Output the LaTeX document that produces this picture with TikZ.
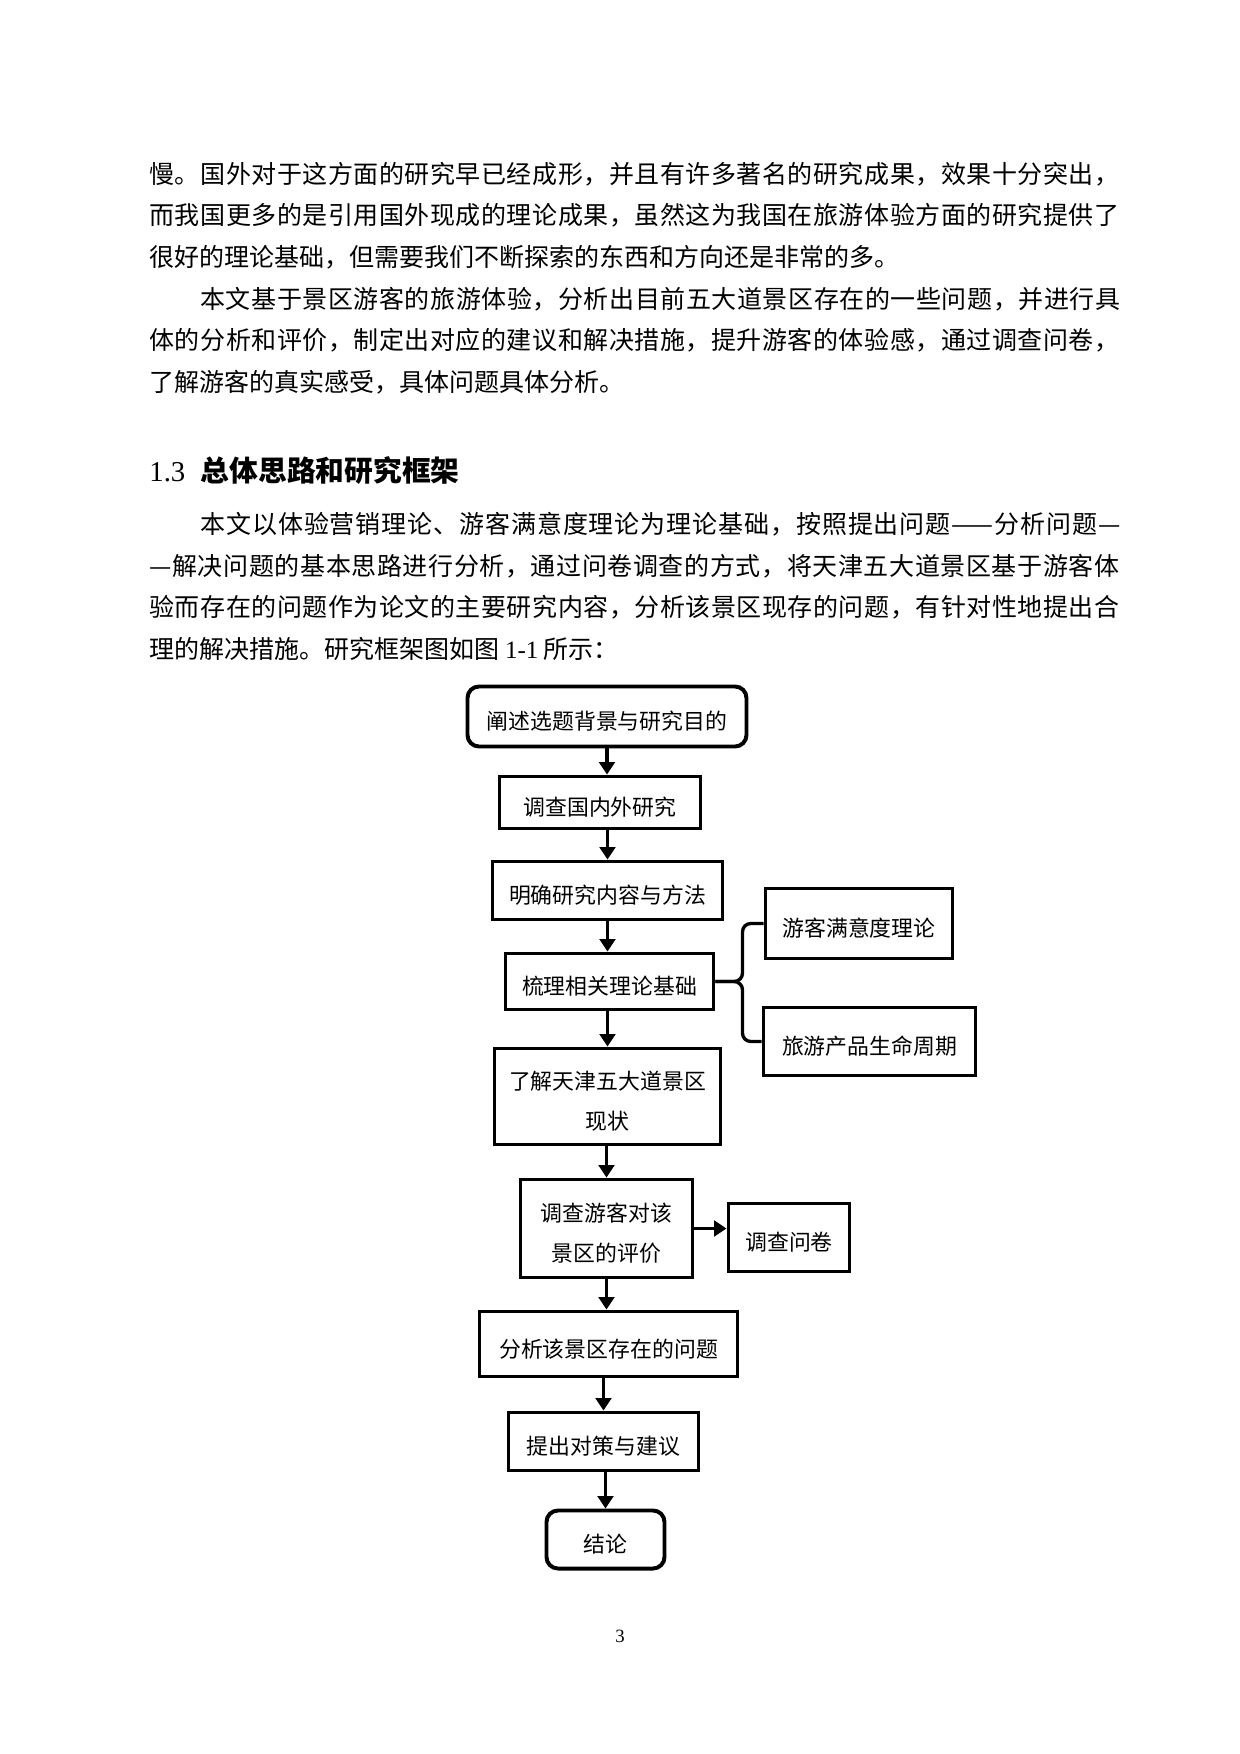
\documentclass[tikz,border=0pt]{standalone}
\usepackage{fontspec}
\setmainfont{Noto Sans CJK SC}
\newfontfamily\lat{Liberation Serif}
\usetikzlibrary{arrows.meta,calc}
\makeatletter
\def\spr@a#1{#1\spr@b}
\def\spr@b#1{\ifx#1\relax\else\hskip 0pt plus 1fil\relax#1\expandafter\spr@b\fi}
\newcommand\jline[1]{\hbox to 465.6pt{\spr@a#1\relax}}
\newcommand\jlineind[1]{\hbox to 441.6pt{\spr@a#1\relax}}
\makeatother
\newcommand\twodash{——}
\newcommand\bxnode[7]{\node[#7, minimum width={(#4-#2-3)*0.48pt}, minimum height={(#5-#3-3)*0.48pt}, label={[lbl]center:{#6}}] (#1) at ({(#2+#4)/2},{(#3+#5)/2}) {};}
\begin{document}
\begin{tikzpicture}[x=0.48pt,y=-0.48pt,
  every node/.style={inner sep=0pt},
  body/.style={font=\fontsize{12pt}{20pt}\selectfont, anchor=base west},
  bx/.style={draw, line width=1.9pt},
  rbx/.style={bx, rounded corners=5.5pt},
  lbl/.style={yshift=-2.3pt, align=center, font=\fontsize{10.5pt}{19.4pt}\selectfont},
  arr/.style={line width=1.65pt, -{Triangle[length=6pt,width=7.5pt]}},
  ln/.style={line width=1.6pt}]
\fill[white] (0,0) rectangle (1240,1754);
\useasboundingbox (0,0) rectangle (1240,1754);

% body text
\node[body] (t1) at (149,183) {\jline{慢。国外对于这方面的研究早已经成形，并且有许多著名的研究成果，效果十分突出，}};
\node[body] (t2) at (149,224.7) {\jline{而我国更多的是引用国外现成的理论成果，虽然这为我国在旅游体验方面的研究提供了}};
\node[body] (t3) at (149,266.3) {很好的理论基础，但需要我们不断探索的东西和方向还是非常的多。};
\node[body] (t4) at (200,308) {\jlineind{本文基于景区游客的旅游体验，分析出目前五大道景区存在的一些问题，并进行具}};
\node[body] (t5) at (149,349.7) {\jline{体的分析和评价，制定出对应的建议和解决措施，提升游客的体验感，通过调查问卷，}};
\node[body] (t6) at (149,391.3) {了解游客的真实感受，具体问题具体分析。};

\node[anchor=base west, font=\fontsize{13.8pt}{14pt}\selectfont] (h) at (149,481) {{\lat 1.3}\hspace{7.5pt}{\bfseries 总体思路和研究框架}};

\node[body] (t7) at (200,533.5) {\jlineind{本文以体验营销理论、游客满意度理论为理论基础，按照提出问题\twodash 分析问题—}};
\node[body] (t8) at (149,575.2) {\jline{—解决问题的基本思路进行分析，通过问卷调查的方式，将天津五大道景区基于游客体}};
\node[body] (t9) at (149,616.8) {\jline{验而存在的问题作为论文的主要研究内容，分析该景区现存的问题，有针对性地提出合}};
\node[body] (t10) at (149,658.5) {理的解决措施。研究框架图如图 {\lat 1-1} 所示：};

% flowchart
\bxnode{b1}{466}{685}{748}{748}{阐述选题背景与研究目的}{rbx}
\bxnode{b2}{498}{775}{702}{830}{调查国内外研究}{bx}
\bxnode{b3}{491}{860}{724}{921}{明确研究内容与方法}{bx}
\bxnode{b4}{504}{952}{715}{1011}{梳理相关理论基础}{bx}
\bxnode{b5}{493}{1047}{722}{1146}{了解天津五大道景区\\现状}{bx}
\bxnode{b6}{519}{1178}{694}{1279}{调查游客对该\\景区的评价}{bx}
\bxnode{b7}{478}{1310}{739}{1378}{分析该景区存在的问题}{bx}
\bxnode{b8}{507}{1411}{700}{1472}{提出对策与建议}{bx}
\bxnode{b9}{545}{1509}{666}{1570}{结论}{rbx}
\bxnode{A}{764}{887}{954}{960}{游客满意度理论}{bx}
\bxnode{B}{762}{1006}{977}{1077}{旅游产品生命周期}{bx}
\bxnode{C}{727}{1202}{851}{1273}{调查问卷}{bx}

\draw[arr] (b1.south) -- (b1.south |- b2.north);
\draw[arr] (b3.north |- b2.south) -- (b3.north);
\draw[arr] (b3.south) -- (b3.south |- b4.north);
\draw[arr] (b5.north |- b4.south) -- (b5.north);
\draw[arr] (b6.north |- b5.south) -- (b6.north);
\draw[arr] (b6.south) -- (b6.south |- b7.north);
\draw[arr] (b8.north |- b7.south) -- (b8.north);
\draw[arr] (b9.north |- b8.south) -- (b9.north);
\draw[arr] (b6.east) -- (b6.east -| C.west);

\coordinate (j) at ($(b4.east)+(27,0)$);
\draw[ln, rounded corners=4pt] (A.west) -| (j) -- (b4.east);
\draw[ln, rounded corners=4pt] (B.west) -| (j) -- (b4.east);

\node[anchor=base, font=\lat\fontsize{9pt}{9pt}\selectfont] (pg) at (620,1642) {3};
\end{tikzpicture}
\end{document}
